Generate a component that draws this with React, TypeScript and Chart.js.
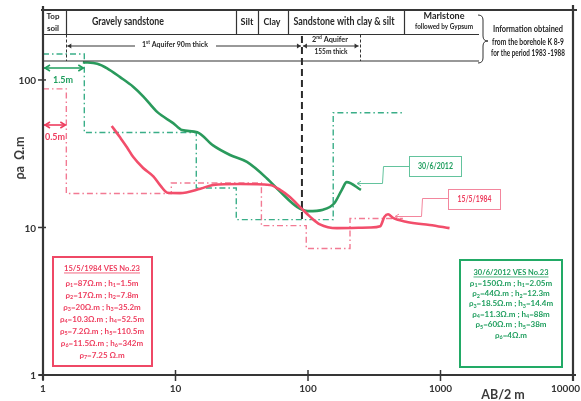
import React, { useEffect, useRef } from 'react';
import { Chart, registerables } from 'chart.js';

Chart.register(...registerables);

// ---------- data ----------
const xTickValues = [1, 10, 100, 1000, 10000];
const yTickValues = [1, 10, 100];

// measured apparent resistivity, VES No.23, 15/5/1984
const ab1984 = [3.3, 3.8, 4.3, 4.8, 5.7, 6.8, 7.7, 8.7, 10.8, 15.4, 19.2, 30.7, 51.6, 61.6, 73, 87.6, 104, 123, 165, 294, 351, 377, 402, 438, 559, 829, 1170];
const rho1984 = [48.8, 41, 35, 30, 25.3, 22.2, 19.2, 17.2, 17.1, 18.3, 19.4, 19.7, 19.4, 18, 16.1, 13.7, 11.8, 10.5, 9.9, 10.0, 10.2, 11.8, 12.3, 11.6, 10.9, 10.4, 9.9];

// measured apparent resistivity, VES No.23, 30/6/2012
const ab2012 = [2.0, 2.57, 3.05, 3.82, 4.79, 5.7, 7.3, 9.6, 11.2, 14.6, 19.2, 25.8, 34.6, 49, 61.6, 82.6, 100, 130, 158, 180, 196, 251];
const rho2012 = [132, 129, 120, 104.5, 90, 77.5, 60.5, 51, 45.8, 44.2, 36, 31, 27.8, 21.5, 17.5, 13.8, 12.9, 13.2, 14.6, 18, 20.3, 18];

// interpreted layer models (step curves)
const modelAb1984 = [1, 1.5, 1.5, 9.3, 9.3, 44.5, 44.5, 97, 97, 207.5, 207.5, 520];
const modelRho1984 = [87, 87, 17, 17, 20, 20, 10.3, 10.3, 7.2, 7.2, 11.5, 11.5];
const modelAb2012 = [1, 2.05, 2.05, 14.35, 14.35, 28.75, 28.75, 155, 155, 520];
const modelRho2012 = [150, 150, 44, 44, 18.5, 18.5, 11.3, 11.3, 60, 60];

// lithology boundaries along AB/2 (m)
const lithoBounds = [1.5, 28.75, 42, 71, 530];
const aquifer1End = 90;
const aquifer2End = 245;

const legend1984 = [
  'ρ_{1}=87Ω.m ; h_{1}=1.5m',
  'ρ_{2}=17Ω.m ; h_{2}=7.8m',
  'ρ_{3}=20Ω.m ; h_{3}=35.2m',
  'ρ_{4}=10.3Ω.m ; h_{4}=52.5m',
  'ρ_{5}=7.2Ω.m ; h_{5}=110.5m',
  'ρ_{6}=11.5Ω.m ; h_{6}=342m',
  'ρ_{7}=7.25 Ω.m',
];
const legend2012 = [
  'ρ_{1}=150Ω.m ; h_{1}=2.05m',
  'ρ_{2}=44Ω.m ; h_{2}=12.3m',
  'ρ_{3}=18.5Ω.m ; h_{3}=14.4m',
  'ρ_{4}=11.3Ω.m ; h_{4}=88m',
  'ρ_{5}=60Ω.m ; h_{5}=38m',
  'ρ_{6}=4Ω.m',
];

// ---------- styles ----------
const GREEN = '#2a9a5c';
const GREEN_MODEL = '#3aae88';
const GREEN_TEXT = '#1f9e5e';
const GREEN_LIGHT = '#63c39d';
const RED = '#f24e6b';
const RED_MODEL = '#f27a93';
const RED_TEXT = '#ee3d5e';
const RED_LIGHT = '#f3869d';
const INK = '#333333';
const FONT = 'Lato';

type Seg = { t: string; k: 'n' | 'sub' | 'sup' };
function parseRich(s: string): Seg[] {
  const out: Seg[] = [];
  const re = /_\{([^}]*)\}|\^\{([^}]*)\}|([^_^]+)/g;
  let m: RegExpExecArray | null;
  while ((m = re.exec(s))) {
    if (m[1] !== undefined) out.push({ t: m[1], k: 'sub' });
    else if (m[2] !== undefined) out.push({ t: m[2], k: 'sup' });
    else out.push({ t: m[3], k: 'n' });
  }
  return out;
}

function drawRich(
  ctx: CanvasRenderingContext2D,
  s: string,
  cx: number,
  cy: number,
  size: number,
  color: string,
  opts: { weight?: string; width?: number; underline?: boolean } = {}
) {
  const segs = parseRich(s);
  const w = opts.weight || 'bold';
  const fontFor = (k: string) => `${w} ${k === 'n' ? size : size * 0.68}px ${FONT}`;
  let total = 0;
  const widths = segs.map((sg) => {
    ctx.font = fontFor(sg.k);
    const ww = ctx.measureText(sg.t).width;
    total += ww;
    return ww;
  });
  const sx = opts.width && total > 0 ? opts.width / total : 1;
  ctx.save();
  ctx.translate(cx, cy);
  ctx.scale(sx, 1);
  ctx.fillStyle = color;
  ctx.textBaseline = 'middle';
  ctx.textAlign = 'left';
  let x = -total / 2;
  segs.forEach((sg, i) => {
    ctx.font = fontFor(sg.k);
    const dy = sg.k === 'sub' ? size * 0.3 : sg.k === 'sup' ? -size * 0.32 : 0;
    ctx.fillText(sg.t, x, dy);
    x += widths[i];
  });
  if (opts.underline) {
    ctx.strokeStyle = color;
    ctx.lineWidth = 0.8;
    ctx.beginPath();
    ctx.moveTo(-total / 2, size * 0.62);
    ctx.lineTo(total / 2, size * 0.62);
    ctx.stroke();
  }
  ctx.restore();
}

function seg(ctx: CanvasRenderingContext2D, x1: number, y1: number, x2: number, y2: number) {
  ctx.beginPath();
  ctx.moveTo(x1, y1);
  ctx.lineTo(x2, y2);
  ctx.stroke();
}

function arrowHead(ctx: CanvasRenderingContext2D, x: number, y: number, dir: number, size: number, filled: boolean) {
  ctx.beginPath();
  ctx.moveTo(x - dir * size, y - size * 0.6);
  ctx.lineTo(x, y);
  ctx.lineTo(x - dir * size, y + size * 0.6);
  if (filled) {
    ctx.closePath();
    ctx.fill();
  } else {
    ctx.stroke();
  }
}

const decorPlugin = {
  id: 'decor',
  beforeDatasetsDraw(chart: any) {
    const ctx: CanvasRenderingContext2D = chart.ctx;
    const xs = chart.scales.x;
    const px = xs.getPixelForValue(aquifer1End);
    ctx.save();
    ctx.strokeStyle = '#2b2b2b';
    ctx.lineWidth = 2;
    ctx.setLineDash([7, 4]);
    seg(ctx, px, 36, px, 220);
    ctx.restore();
  },
  afterDraw(chart: any) {
    const ctx: CanvasRenderingContext2D = chart.ctx;
    const xs = chart.scales.x;
    const ys = chart.scales.y;
    const ca = chart.chartArea;
    const L = ca.left, R = ca.right, T = ca.top, B = ca.bottom;
    const hx = (v: number) => xs.getPixelForValue(v);
    ctx.save();

    // ----- header table -----
    const headEnd = 479;
    const r1 = 34.5, r2 = 61;
    ctx.strokeStyle = INK;
    ctx.lineWidth = 1.2;
    seg(ctx, L, r1, headEnd, r1);
    seg(ctx, L, r2, headEnd, r2);
    lithoBounds.forEach((b) => seg(ctx, Math.round(hx(b)) + 0.5, T, Math.round(hx(b)) + 0.5, r1));
    ctx.save();
    ctx.setLineDash([3, 2]);
    ctx.lineWidth = 1;
    [1.5, aquifer2End].forEach((b) => seg(ctx, Math.round(hx(b)) + 0.5, r1, Math.round(hx(b)) + 0.5, r2));
    ctx.restore();

    // brace
    ctx.lineWidth = 1;
    ctx.beginPath();
    ctx.moveTo(478, 15);
    ctx.quadraticCurveTo(483, 15, 483, 20);
    ctx.lineTo(483, 36);
    ctx.quadraticCurveTo(483, 41, 488, 41);
    ctx.quadraticCurveTo(483, 41, 483, 46);
    ctx.lineTo(483, 58);
    ctx.quadraticCurveTo(483, 63, 478, 63);
    ctx.stroke();

    const hc = '#262626';
    drawRich(ctx, 'Top', 53, 16, 8, hc);
    drawRich(ctx, 'soil', 53, 28, 8, hc);
    drawRich(ctx, 'Gravely sandstone', 128, 22, 10.5, hc, { width: 72 });
    drawRich(ctx, 'Silt', 247, 22, 10, hc, { width: 13 });
    drawRich(ctx, 'Clay', 272, 22, 10, hc, { width: 17 });
    drawRich(ctx, 'Sandstone with clay & silt', 344, 22, 10.5, hc, { width: 101 });
    drawRich(ctx, 'Marlstone', 444, 16, 9.5, hc, { width: 41 });
    drawRich(ctx, 'followed by Gypsum', 444, 27, 6.5, hc, { width: 58 });
    drawRich(ctx, 'Information obtained', 528, 29, 8.5, hc, { width: 70 });
    drawRich(ctx, 'from the borehole K 8-9', 528, 42, 8.5, hc, { width: 72 });
    drawRich(ctx, 'for the period 1983 -1988', 528, 53, 8.5, hc, { width: 74 });

    // aquifer arrows
    ctx.strokeStyle = INK;
    ctx.fillStyle = INK;
    ctx.lineWidth = 1;
    const ay = 46;
    const a0 = hx(1.5) + 1, a1 = hx(aquifer1End), a2 = hx(aquifer2End) - 1;
    seg(ctx, a0, ay, 135, ay);
    arrowHead(ctx, a0, ay, -1, 4, true);
    seg(ctx, 216, ay, a1 - 1, ay);
    arrowHead(ctx, a1 - 1, ay, 1, 4, true);
    seg(ctx, a1 + 1, ay, a2, ay);
    arrowHead(ctx, a1 + 1, ay, -1, 4, true);
    arrowHead(ctx, a2, ay, 1, 4, true);
    drawRich(ctx, '1^{st} Aquifer 90m thick', 175, 45, 7.5, hc, { width: 66 });
    drawRich(ctx, '2^{nd} Aquifer', 330, 40, 7, hc, { width: 36 });
    drawRich(ctx, '155m thick', 331, 52, 7, hc, { width: 33 });

    // ----- dimension arrows -----
    ctx.lineWidth = 1.6;
    ctx.strokeStyle = GREEN_TEXT;
    const g1 = hx(2.05) - 1;
    seg(ctx, L + 1, 68, g1, 68);
    arrowHead(ctx, L + 2, 68, -1, 5, false);
    arrowHead(ctx, g1, 68, 1, 5, false);
    drawRich(ctx, '1.5m', 63, 80, 9, GREEN_TEXT);
    ctx.strokeStyle = RED_TEXT;
    const rr = hx(1.5) - 1;
    seg(ctx, L + 1, 125, rr, 125);
    arrowHead(ctx, L + 2, 125, -1, 5, false);
    arrowHead(ctx, rr, 125, 1, 5, false);
    drawRich(ctx, '0.5m', 55, 137, 9, RED_TEXT);

    // ----- callouts -----
    ctx.lineWidth = 1;
    ctx.strokeStyle = GREEN_LIGHT;
    ctx.strokeRect(409.5, 156.5, 52, 20);
    drawRich(ctx, '30/6/2012', 435.5, 166.5, 8.5, GREEN_TEXT, { width: 35 });
    ctx.beginPath();
    ctx.moveTo(409, 166.5);
    ctx.lineTo(383.5, 166.5);
    ctx.lineTo(382.5, 183.5);
    ctx.lineTo(357, 183.5);
    ctx.stroke();
    arrowHead(ctx, 357, 183.5, -1, 4, false);

    ctx.strokeStyle = RED_LIGHT;
    ctx.strokeRect(448.5, 189.5, 52, 20);
    drawRich(ctx, '15/5/1984', 474.5, 199.5, 8.5, RED_TEXT, { width: 34 });
    ctx.beginPath();
    ctx.moveTo(448, 198.5);
    ctx.lineTo(422.5, 198.5);
    ctx.lineTo(421.5, 216.5);
    ctx.lineTo(395, 216.5);
    ctx.stroke();
    arrowHead(ctx, 395, 216.5, -1, 4, false);

    // ----- legend boxes -----
    ctx.lineWidth = 2;
    ctx.strokeStyle = '#ef4866';
    ctx.strokeRect(53, 257, 99, 109);
    drawRich(ctx, '15/5/1984 VES No.23', 102, 268, 8, RED_TEXT, { underline: true, width: 76 });
    legend1984.forEach((t, i) => drawRich(ctx, t, 102, 283 + i * 12, 8, RED_TEXT));

    ctx.strokeStyle = '#22aa66';
    ctx.strokeRect(460, 260, 102, 107);
    drawRich(ctx, '30/6/2012 VES No.23', 511, 272, 8, GREEN_TEXT, { underline: true, width: 75 });
    legend2012.forEach((t, i) => drawRich(ctx, t, 511, 283 + i * 10.4, 8, GREEN_TEXT));

    // ----- axes frame -----
    ctx.strokeStyle = '#363636';
    ctx.lineWidth = 2.2;
    seg(ctx, L, 6, L, B + 5);
    seg(ctx, L - 4, B, R + 3, B);
    seg(ctx, R, 5, R, B + 6);
    seg(ctx, L - 2, T, R + 4, T);
    ctx.lineWidth = 1.5;
    xTickValues.forEach((v) => {
      const px = xs.getPixelForValue(v);
      seg(ctx, px, B - 5, px, B + 6);
    });
    yTickValues.forEach((v) => {
      const py = ys.getPixelForValue(v);
      seg(ctx, L - 5, py, L + 3, py);
    });

    // tick labels
    ctx.fillStyle = '#333';
    ctx.textBaseline = 'middle';
    ctx.font = `bold 10px ${FONT}`;
    xTickValues.forEach((v) => {
      const px = xs.getPixelForValue(v);
      const t = String(v);
      const w = ctx.measureText(t).width;
      const cx = Math.min(px, 580 - w / 2);
      ctx.textAlign = 'center';
      ctx.fillText(t, cx, 389);
    });
    yTickValues.forEach((v) => {
      const py = ys.getPixelForValue(v);
      ctx.textAlign = 'right';
      ctx.fillText(String(v), 36, py + 1);
    });

    // axis titles
    ctx.fillStyle = '#3a3a3a';
    ctx.font = `bold 12.5px ${FONT}`;
    ctx.textAlign = 'center';
    ctx.textBaseline = 'middle';
    ctx.fillText('AB/2 m', 503, 395);
    ctx.save();
    ctx.setTransform(0, -1, 1, 0, 20, 158);
    ctx.fillText('ρa  Ω.m', 0, 0);
    ctx.restore();

    ctx.restore();
  },
};

const toPoints = (xs: number[], ys: number[]) => xs.map((x, i) => ({ x, y: ys[i] }));

export default function App() {
  const ref = useRef<HTMLCanvasElement | null>(null);
  useEffect(() => {
    if (!ref.current) return;
    const chart = new Chart(ref.current, {
      type: 'line',
      data: {
        datasets: [
          {
            label: '15/5/1984',
            data: toPoints(ab1984, rho1984),
            borderColor: RED,
            borderWidth: 2.6,
            pointRadius: 0,
            cubicInterpolationMode: 'monotone',
            fill: false,
          },
          {
            label: '30/6/2012',
            data: toPoints(ab2012, rho2012),
            borderColor: GREEN,
            borderWidth: 2.6,
            pointRadius: 0,
            cubicInterpolationMode: 'monotone',
            fill: false,
          },
          {
            label: 'model 1984',
            data: toPoints(modelAb1984, modelRho1984),
            borderColor: RED_MODEL,
            borderWidth: 1.4,
            borderDash: [6, 3, 1.5, 3],
            pointRadius: 0,
            tension: 0,
            fill: false,
          },
          {
            label: 'model 2012',
            data: toPoints(modelAb2012, modelRho2012),
            borderColor: GREEN_MODEL,
            borderWidth: 1.4,
            borderDash: [6, 3, 1.5, 3],
            pointRadius: 0,
            tension: 0,
            fill: false,
          },
        ],
      } as any,
      options: {
        animation: false,
        responsive: false,
        events: [],
        layout: { padding: { top: 10, right: 8, left: 0, bottom: 0 }, autoPadding: false } as any,
        plugins: { legend: { display: false }, tooltip: { enabled: false } },
        scales: {
          x: {
            type: 'logarithmic',
            min: 1,
            max: 10000,
            afterBuildTicks: (s: any) => {
              s.ticks = xTickValues.map((v) => ({ value: v }));
            },
            afterFit: (s: any) => {
              s.height = 26;
            },
            ticks: { display: false },
            grid: { display: false, drawTicks: false },
            border: { display: false },
          },
          y: {
            type: 'logarithmic',
            min: 1,
            max: 298,
            afterBuildTicks: (s: any) => {
              s.ticks = yTickValues.map((v) => ({ value: v }));
            },
            afterFit: (s: any) => {
              s.width = 43;
            },
            ticks: { display: false },
            grid: { display: false, drawTicks: false },
            border: { display: false },
          },
        } as any,
      },
      plugins: [decorPlugin],
    });
    return () => chart.destroy();
  }, []);
  return (
    <div style={{ position: 'absolute', left: 0, top: 0, width: 581, height: 401, background: '#fff' }}>
      <canvas ref={ref} width={581} height={401} style={{ display: 'block' }} />
    </div>
  );
}
